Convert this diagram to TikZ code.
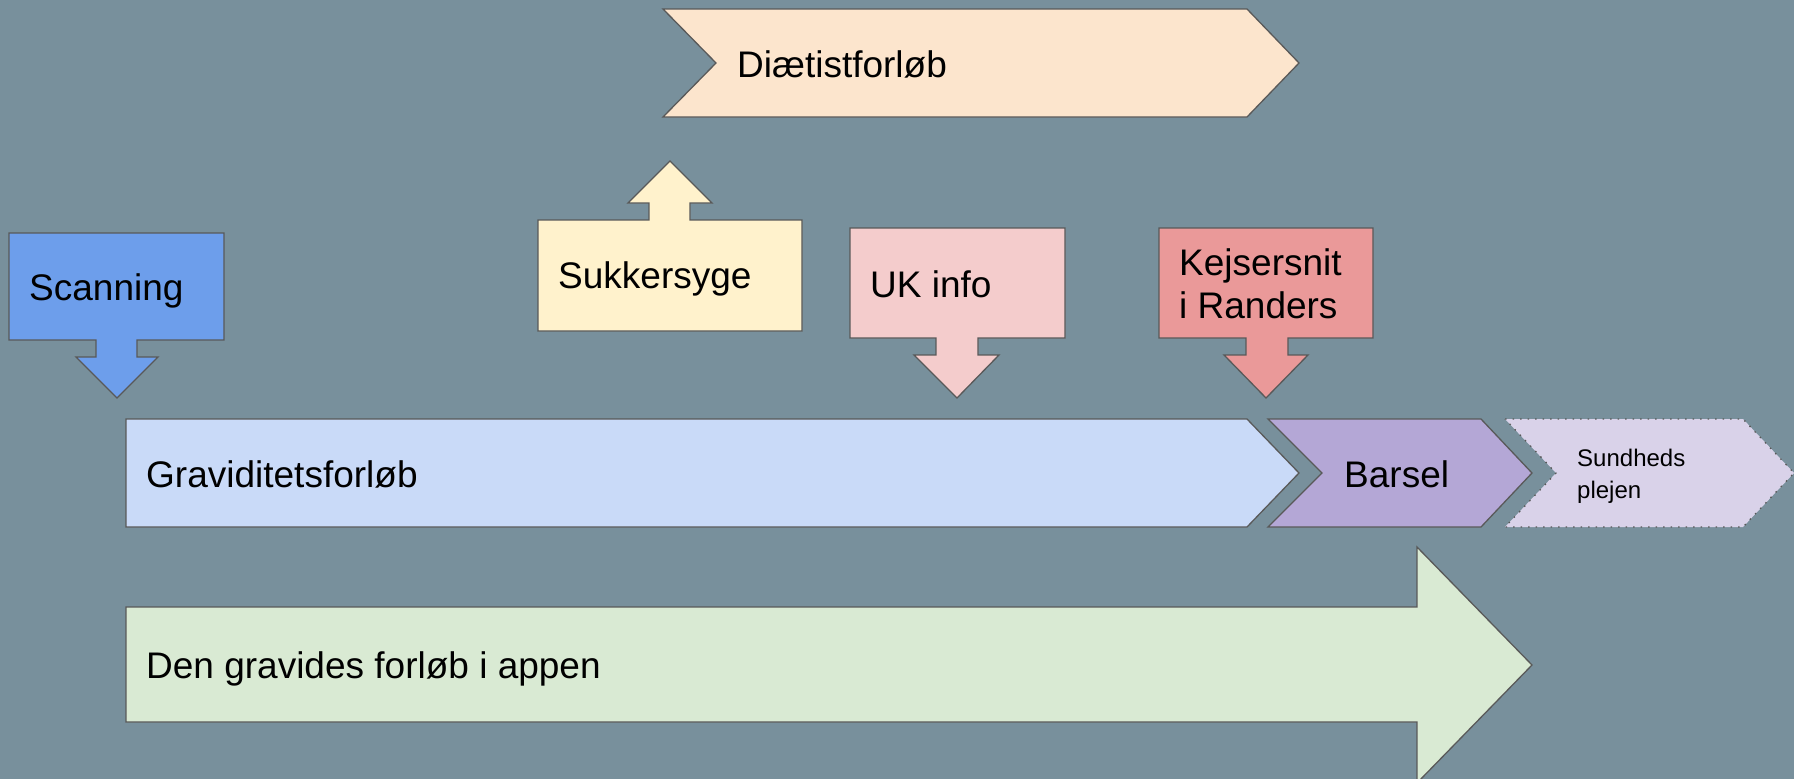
\documentclass[tikz,border=0pt]{standalone}
\usepackage{fontspec}
\setmainfont{Liberation Sans}
\usepackage{xcolor}
\definecolor{bggrey}{HTML}{78909C}
\definecolor{edgegrey}{HTML}{595959}
\definecolor{scanblue}{HTML}{6D9EEB}
\definecolor{sugaryellow}{HTML}{FFF2CC}
\definecolor{dietorange}{HTML}{FCE5CD}
\definecolor{ukpink}{HTML}{F4CCCC}
\definecolor{csred}{HTML}{EA9999}
\definecolor{pregblue}{HTML}{C9DAF8}
\definecolor{barselpurple}{HTML}{B4A7D6}
\definecolor{healthlilac}{HTML}{D9D2E9}
\definecolor{appgreen}{HTML}{D9EAD3}

\begin{document}
\begin{tikzpicture}[x=1pt, y=-1pt,
    outline/.style={draw=edgegrey, line width=1.3pt, line join=miter},
    bigtext/.style={anchor=base west, inner sep=0pt, font=\fontsize{37}{43}\selectfont, align=left},
    smalltext/.style={anchor=base west, inner sep=0pt, font=\fontsize{24}{31.5}\selectfont, align=left}]
  \useasboundingbox[fill=bggrey] (0,0) rectangle (1794,779);

  % top: dietist chevron
  \draw[outline, fill=dietorange] (663,9) -- (1247,9) -- (1299,63) -- (1247,117) -- (663,117) -- (716,63) -- cycle;
  \node[bigtext] (diet) at (737,77) {Diætistforløb};

  % callouts
  \draw[outline, fill=scanblue] (9,233) -- (224,233) -- (224,340) -- (137,340) -- (137,357) -- (158,357)
      -- (117,398) -- (76,357) -- (96,357) -- (96,340) -- (9,340) -- cycle;
  \node[bigtext] (scan) at (29,300) {Scanning};

  \draw[outline, fill=sugaryellow] (538,331) -- (538,220) -- (649,220) -- (649,203) -- (628,203) -- (670,161)
      -- (712,203) -- (690,203) -- (690,220) -- (802,220) -- (802,331) -- cycle;
  \node[bigtext] (sugar) at (558,288) {Sukkersyge};

  \draw[outline, fill=ukpink] (850,228) -- (1065,228) -- (1065,338) -- (978,338) -- (978,355) -- (999,355)
      -- (957,398) -- (914,355) -- (936,355) -- (936,338) -- (850,338) -- cycle;
  \node[bigtext] (uk) at (870,297) {UK info};

  \draw[outline, fill=csred] (1159,228) -- (1373,228) -- (1373,338) -- (1288,338) -- (1288,355) -- (1308,355)
      -- (1266,398) -- (1224,355) -- (1246,355) -- (1246,338) -- (1159,338) -- cycle;
  \node[bigtext] (cs) at (1179,318) {Kejsersnit\\i Randers};% base = last line

  % middle row
  \draw[outline, fill=pregblue] (126,419) -- (1247,419) -- (1299,473) -- (1247,527) -- (126,527) -- cycle;
  \node[bigtext] (preg) at (146,487) {Graviditetsforløb};

  \draw[outline, fill=barselpurple] (1268,419) -- (1481,419) -- (1532,473) -- (1481,527) -- (1268,527) -- (1322,473) -- cycle;
  \node[bigtext] (barsel) at (1344,487) {Barsel};

  \draw[outline, fill=healthlilac, dash pattern=on 1.5pt off 6pt] (1505,419) -- (1743,419) -- (1794,473) -- (1743,527) -- (1505,527) -- (1556,473) -- cycle;
  \node[smalltext] (health) at (1577,498) {Sundheds\\plejen};

  % bottom: the app
  \draw[outline, fill=appgreen] (126,607) -- (1417,607) -- (1417,547) -- (1532,665) -- (1417,783) -- (1417,722) -- (126,722) -- cycle;
  \node[bigtext] (app) at (146,678) {Den gravides forløb i appen};
\end{tikzpicture}
\end{document}
